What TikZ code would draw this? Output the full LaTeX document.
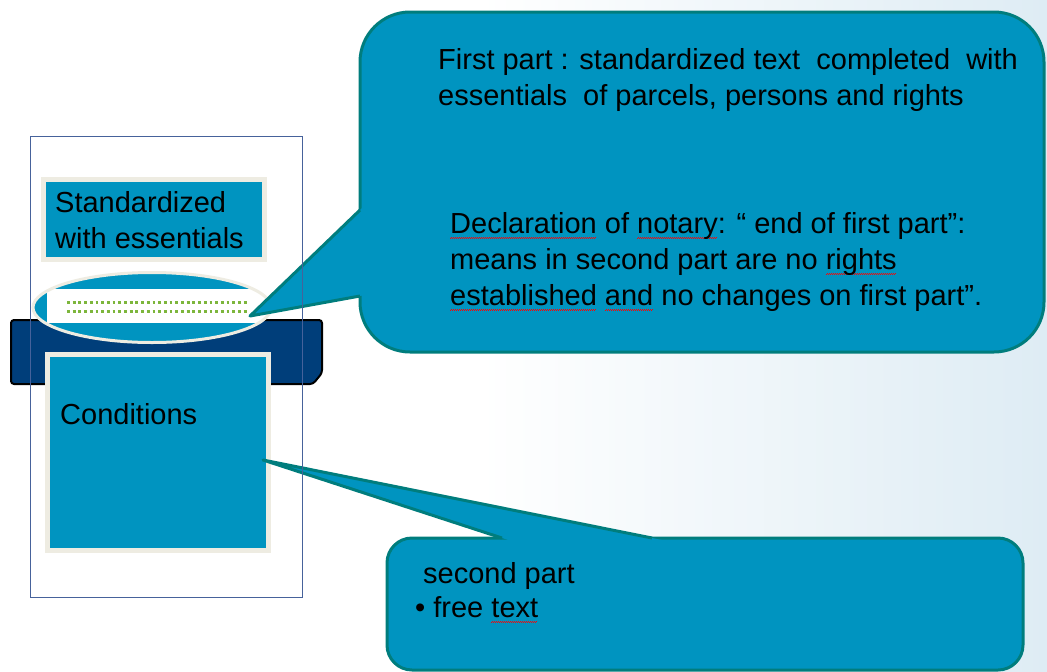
\documentclass[tikz,border=0pt]{standalone}
\usepackage{fontspec}
\setmainfont{Liberation Sans}
\usetikzlibrary{calc}
\definecolor{fillteal}{RGB}{0,148,192}
\definecolor{edgeteal}{RGB}{0,125,125}
\definecolor{beige}{RGB}{238,236,226}
\definecolor{navy}{RGB}{0,62,122}
\definecolor{pageline}{RGB}{70,98,155}
\definecolor{dotgreen}{RGB}{125,182,60}
\definecolor{bgblue}{RGB}{222,236,244}
\newcommand\squig[1]{\setbox0\hbox{#1}\rlap{\textcolor{red}{\hbox to \wd0{\leaders\hbox{\rule[-5.2pt]{1pt}{0.7pt}\rule[-4.4pt]{1pt}{0.7pt}}\hfil}}}\box0\relax}
\begin{document}
\begin{tikzpicture}[x=1pt,y=-1pt,
  every node/.style={inner sep=0pt, anchor=base west, font=\fontsize{29}{36}\selectfont},
  callout/.style={fill=fillteal, draw=edgeteal, line width=3pt, line join=round},
  tailedge/.style={draw=edgeteal, line width=3pt, line join=round},
  paperbox/.style={fill=fillteal, draw=beige, line width=5pt},
  dotrow/.style={draw=dotgreen, line width=3pt, dash pattern=on 2.8pt off 2.9pt}]
\useasboundingbox (0,0) rectangle (1047,672);
% background
\fill[white] (0,0) rectangle (1047,672);
\shade[left color=white, right color=bgblue] (480,0) rectangle (1047,672);
% standardized box
\draw[paperbox] (43.5,179.5) rectangle (264.5,259.5);
% navy bar
\draw[fill=navy, draw=black, line width=2pt, rounded corners=3pt]
  (11,320) -- (322,320) -- (322,373) -- (313,384) -- (11,384) -- cycle;
% ellipse with white strip
\fill[fillteal] (152,307.5) ellipse [x radius=119pt, y radius=35pt];
\begin{scope}
  \clip (152,307.5) ellipse [x radius=119pt, y radius=35pt];
  \fill[white] (47,289) rectangle (267,323);
\end{scope}
\draw[beige, line width=3pt] (152,307.5) ellipse [x radius=119pt, y radius=35pt];
\draw[dotrow] (67,302.7) -- (248,302.7);
\draw[dotrow] (67,311) -- (248,311);
% conditions box
\draw[paperbox] (47.5,354.5) rectangle (268.5,550.5);
% top callout
\draw[callout, rounded corners=50pt] (360,12) rectangle (1044,352);
\coordinate (ta) at (360,210);
\coordinate (tb) at (360,296);
\coordinate (tt) at (250,316);
\fill[fillteal] (tt) -- ($(tt)!1.06!(ta)$) -- ($(tt)!1.06!(tb)$) -- cycle;
\draw[tailedge] (ta) -- (tt) -- (tb);
% bottom callout
\draw[callout, rounded corners=25pt] (387,538) rectangle (1023,670);
\coordinate (ba) at (502,538);
\coordinate (bb) at (652,538);
\coordinate (bt) at (263,460);
\fill[fillteal] (bt) -- ($(bt)!1.06!(ba)$) -- ($(bt)!1.06!(bb)$) -- cycle;
\draw[tailedge] (ba) -- (bt) -- (bb);
% page outline
\draw[pageline, line width=1pt] (30,136) rectangle (302,597);
% texts
\node (std1) at (55,212) {Standardized};
\node (std2) at (55,248) {with essentials};
\node (cond) at (60,424) {Conditions};
\node (fp1) at (438,69) {First part : standardized text\ \ completed\ \ with};
\node (fp2) at (438,105) {essentials\ \ of parcels, persons and rights};
\node (dc1) at (450,233) {\squig{Declaration} of \squig{notary}: “ end of first part”:};
\node (dc2) at (450,269) {means in second part are no \squig{rights}};
\node (dc3) at (450,305) {\squig{established} \squig{and} no changes on first part”.};
\node (sp1) at (423,583) {second part};
\node (sp2) at (415,617) {• free \squig{text}};
\end{tikzpicture}
\end{document}
